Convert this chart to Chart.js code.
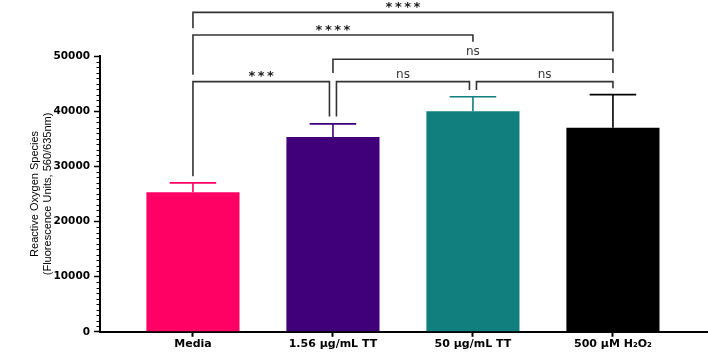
<!DOCTYPE html>
<html>
<head>
<meta charset="utf-8">
<style>
  html, body { margin: 0; padding: 0; background: #fff; }
  #wrap { width: 708px; height: 352px; }
</style>
<script src="https://cdn.jsdelivr.net/npm/chart.js@4.4.1/dist/chart.umd.min.js"></script>
</head>
<body>
<div id="wrap"><canvas id="grafico"></canvas></div>
<script>
// dados
const categories = ['Media', '1.56 µg/mL TT', '50 µg/mL TT', '500 µM H₂O₂'];
const means = [25300, 35300, 40000, 37000];
const errors = [1700, 2400, 2600, 6000];
const yTicks = [0, 10000, 20000, 30000, 40000, 50000];

// comparações (índices das barras, texto, nível do colchete e fim das pernas, em unidades do eixo y)
const comparisons = [
    { from: 0, to: 3, label: '****', level: 57900, legs: [55050, 50800] },
    { from: 0, to: 2, label: '****', level: 53800, legs: [46600, 52600] },
    { from: 1, to: 3, label: 'ns', level: 49400, legs: [46900, 46900] },
    { from: 0, to: 1, label: '***', level: 45350, legs: [28200, 39050] },
    { from: 1, to: 2, label: 'ns', level: 45350, legs: [39050, 43850] },
    { from: 2, to: 3, label: 'ns', level: 45350, legs: [43850, 44150] }
];

const barColors = ['#FF0064', '#3F0079', '#117F7E', '#000000'];

// barras de erro (só a parte de cima)
const errorBars = {
    id: 'errorBars',
    afterDatasetsDraw(chart) {
        const ctx = chart.ctx;
        const y = chart.scales.y;
        const meta = chart.getDatasetMeta(0);
        ctx.save();
        ctx.lineWidth = 1.6;
        meta.data.forEach((bar, i) => {
            const top = y.getPixelForValue(means[i] + errors[i]);
            const half = bar.width / 4;
            ctx.strokeStyle = barColors[i];
            ctx.beginPath();
            ctx.moveTo(bar.x, bar.y);
            ctx.lineTo(bar.x, top);
            ctx.moveTo(bar.x - half, top);
            ctx.lineTo(bar.x + half, top);
            ctx.stroke();
        });
        ctx.restore();
    }
};

// ticks menores do eixo y
const minorTicks = {
    id: 'minorTicks',
    afterDraw(chart) {
        const ctx = chart.ctx;
        const y = chart.scales.y;
        const left = chart.chartArea.left;
        ctx.save();
        ctx.strokeStyle = '#000';
        ctx.lineWidth = 1;
        for (let v = 1000; v < 50000; v += 1000) {
            if (v % 10000 === 0) continue;
            const py = Math.round(y.getPixelForValue(v)) + 0.5;
            ctx.beginPath();
            ctx.moveTo(left - 3.5, py);
            ctx.lineTo(left, py);
            ctx.stroke();
        }
        ctx.restore();
    }
};

// colchetes de significância
const brackets = {
    id: 'brackets',
    afterDraw(chart) {
        const ctx = chart.ctx;
        const x = chart.scales.x;
        const y = chart.scales.y;
        const inset = 3.5;
        ctx.save();
        ctx.strokeStyle = '#333';
        ctx.lineWidth = 1.6;
        comparisons.forEach(c => {
            // se outro colchete no mesmo nível usa a mesma barra, afasta um pouco
            const shared = idx => comparisons.some(o => o !== c && o.level === c.level && (o.from === idx || o.to === idx));
            let x1 = x.getPixelForValue(c.from);
            let x2 = x.getPixelForValue(c.to);
            if (shared(c.from)) x1 += inset;
            if (shared(c.to)) x2 -= inset;
            const py = y.getPixelForValue(c.level);
            ctx.beginPath();
            ctx.moveTo(x1, y.getPixelForValue(c.legs[0]));
            ctx.lineTo(x1, py);
            ctx.lineTo(x2, py);
            ctx.lineTo(x2, y.getPixelForValue(c.legs[1]));
            ctx.stroke();

            const isStar = c.label.indexOf('*') >= 0;
            ctx.font = isStar ? 'bold 13px "DejaVu Sans"' : '12px "DejaVu Sans"';
            ctx.fillStyle = isStar ? '#1a1a1a' : '#333';
            if ('letterSpacing' in ctx) ctx.letterSpacing = isStar ? '2.5px' : '0px';
            ctx.textAlign = 'center';
            ctx.textBaseline = 'alphabetic';
            const m = ctx.measureText(c.label);
            const mid = (m.actualBoundingBoxAscent - m.actualBoundingBoxDescent) / 2;
            ctx.fillText(c.label, (x1 + x2) / 2 + (isStar ? 1.25 : 0), py - 7.5 + mid);
        });
        ctx.restore();
    }
};

const ctx = document.getElementById('grafico').getContext('2d');
new Chart(ctx, {
    type: 'bar',
    data: {
        datasets: [{
            data: means.map((v, i) => ({ x: i, y: v })),
            backgroundColor: barColors,
            borderWidth: 0,
            categoryPercentage: 1,
            barPercentage: 0.665
        }]
    },
    options: {
        responsive: true,
        maintainAspectRatio: false,
        animation: false,
        layout: { padding: { top: 56, right: 0, bottom: 0, left: 0 } },
        plugins: {
            legend: { display: false },
            tooltip: { enabled: false }
        },
        scales: {
            x: {
                type: 'linear',
                offset: false,
                min: -0.664,
                max: 3.679,
                afterBuildTicks: s => { s.ticks = categories.map((c, i) => ({ value: i })); },
                border: { color: '#000', width: 2 },
                grid: { display: true, offset: false, drawOnChartArea: false, drawTicks: true, tickLength: 5, tickWidth: 2, tickColor: '#000' },
                ticks: {
                    callback: v => categories[v],
                    autoSkip: false,
                    maxRotation: 0,
                    padding: 1,
                    color: '#000',
                    font: { family: 'DejaVu Sans', size: 11, weight: 'bold' }
                }
            },
            y: {
                min: 0,
                max: 50000,
                afterFit: s => { s.width = 100; },
                afterBuildTicks: s => { s.ticks = yTicks.map(v => ({ value: v })); },
                border: { color: '#000', width: 2 },
                grid: { display: true, drawOnChartArea: false, drawTicks: true, tickLength: 6, tickWidth: 1.5, tickColor: '#000' },
                ticks: {
                    callback: v => String(v),
                    padding: 4,
                    color: '#000',
                    font: { family: 'DejaVu Sans', size: 10.5, weight: 'bold' }
                },
                title: {
                    display: true,
                    text: ['Reactive Oxygen Species', '(Fluorescence Units, 560/635nm)'],
                    color: '#000',
                    padding: { top: 28.5, bottom: 0 },
                    font: { family: 'Liberation Sans', size: 11, lineHeight: 1.18 }
                }
            }
        }
    },
    plugins: [errorBars, minorTicks, brackets]
});
</script>
</body>
</html>
